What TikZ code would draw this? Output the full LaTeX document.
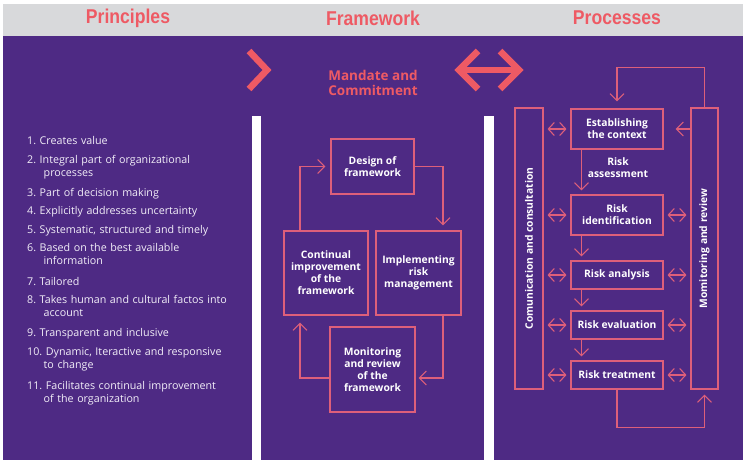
\documentclass[tikz,border=0pt]{standalone}
\usepackage{fontspec}
\setmainfont{Open Sans}
\newfontfamily\headfont[FakeStretch=0.88]{Liberation Sans Bold}
\usetikzlibrary{arrows.meta}
\frenchspacing

\definecolor{bandgray}{HTML}{D8D9DB}
\definecolor{isopurple}{HTML}{4E2A84}
\definecolor{isocoral}{HTML}{EE5A64}
\definecolor{isoline}{HTML}{DE5F7A}
\definecolor{isotext}{HTML}{F2EEF8}

\begin{document}
\begin{tikzpicture}[x=1pt,y=-1pt,
    every node/.style={font=\fontsize{10}{12}\selectfont},
    headline/.style={text=isocoral,font=\headfont\fontsize{20}{22}\selectfont},
    fwbox/.style={draw=isoline,line width=1.1pt,text=white,font=\bfseries\fontsize{10.3}{12}\selectfont,align=center,inner sep=2pt},
    procbox/.style={fwbox,minimum width=92pt},
    boxtext/.style={text=white,font=\bfseries\fontsize{10.3}{12}\selectfont,align=center},
    flow/.style={draw=isoline,line width=1.1pt,-{Straight Barb[length=7pt,width=14pt]}},
    twoway/.style={draw=isoline,line width=1.1pt,{Straight Barb[length=6pt,width=13pt]}-{Straight Barb[length=6pt,width=13pt]},shorten <=4pt,shorten >=4pt},
    principle/.style={anchor=base west,text width=215pt,align=left,inner sep=0pt,text=isotext,font=\fontsize{10.7}{13}\selectfont}]

    \useasboundingbox (0,0) rectangle (743,463);

    % Background and panels
    \fill[bandgray] (3,4) rectangle (743,36);
    \fill[isopurple] (3,36) rectangle (743,460);
    \fill[white] (252,116) rectangle (261,463);
    \fill[white] (484,116) rectangle (494,463);

    % Headings
    \node[headline] (princhead) at (128,18) {Principles};
    \node[headline] (framehead) at (373,18) {Framework};
    \node[headline] (prochead) at (617,18) {Processes};

    % Mandate and commitment
    \draw[isocoral,line width=6.5pt] (249,51) -- (267,70) -- (249,89);
    \draw[isocoral,line width=6.5pt] (460,70) -- (518,70);
    \draw[isocoral,line width=6.5pt] (478,51) -- (459,70) -- (478,89);
    \draw[isocoral,line width=6.5pt] (500,51) -- (519,70) -- (500,89);
    \node[text=isocoral,font=\bfseries\fontsize{13.5}{15}\selectfont,align=center] (mandate) at (373,82.5) {Mandate and\\Commitment};

    % Principles
    \foreach \y/\txt [count=\i] in {144/{1. Creates value},
            163/{2. Integral part of organizational\\\hspace*{16.5pt}processes},
            196/{3. Part of decision making},
            214/{4. Explicitly addresses uncertainty},
            233/{5. Systematic, structured and timely},
            251/{6. Based on the best available\\\hspace*{16.5pt}information},
            285/{7. Tailored},
            303/{8. Takes human and cultural factos into\\\hspace*{16.5pt}account},
            336/{9. Transparent and inclusive},
            355/{10. Dynamic, Iteractive and responsive\\\hspace*{16.5pt}to change},
            389/{11. Facilitates continual improvement\\\hspace*{16.5pt}of the organization}} {
        \node[principle] (princ\i) at (27,\y) {\txt};
    }

    % Framework cycle
    \node[fwbox,minimum width=83pt,minimum height=55pt] (design) at (372.5,166.5) {Design of\\framework};
    \node[fwbox,minimum width=84pt,minimum height=84pt] (improve) at (326,273) {Continual\\improvement\\of the\\framework};
    \node[fwbox,minimum width=85pt,minimum height=84pt] (implement) at (418.5,273) {Implementing\\risk\\management};
    \node[fwbox,minimum width=85pt,minimum height=85pt] (monitor) at (372.5,369.5) {Monitoring\\and review\\of the\\framework};

    \draw[flow,shorten >=5pt] (design.east) -| ([xshift=24.5pt]implement.north);
    \draw[flow,shorten >=3pt] ([xshift=24.5pt]implement.south) |- ([yshift=-8.5pt]monitor.east);
    \draw[flow,shorten >=7pt] ([yshift=-8.5pt]monitor.west) -| ([xshift=-26pt]improve.south);
    \draw[flow,shorten >=5pt] ([xshift=-26pt]improve.north) |- (design.west);

    % Risk management process
    \node[procbox,minimum height=40pt] (context) at (617,129) {Establishing\\the context};
    \node[procbox,minimum height=40pt] (identify) at (617,215) {Risk\\identification};
    \node[procbox,minimum height=28pt] (analysis) at (617,275) {Risk analysis};
    \node[procbox,minimum height=28pt] (evaluation) at (617,325) {Risk evaluation};
    \node[procbox,minimum height=28pt] (treatment) at (617,375) {Risk treatment};
    \node[boxtext] (assess) at (618,167.5) {Risk\\assessment};

    \node[fwbox,minimum width=28pt,minimum height=281pt] (consult) at (529,248.5) {};
    \node[boxtext,rotate=90] (consulttext) at (consult) {Comunication and consultation};
    \node[fwbox,minimum width=27pt,minimum height=281pt] (review) at (704.5,248.5) {};
    \node[boxtext,rotate=90] (reviewtext) at (review) {Momitoring and review};

    \foreach \a/\b in {context/identify,identify/analysis,analysis/evaluation,evaluation/treatment}
        \draw[flow,shorten >=4pt] ([xshift=11pt]\a.south west) -- ([xshift=11pt]\b.north west);

    \foreach \p in {context,identify,analysis,evaluation,treatment}
        \draw[twoway] (consult.east |- \p.west) -- (\p.west);
    \foreach \p in {identify,analysis,evaluation,treatment}
        \draw[twoway] (\p.east) -- (review.west |- \p.east);
    \draw[flow,shorten >=12pt] (review.west |- context.east) -- (context.east);

    % Feedback loops
    \draw[flow,shorten >=7pt] (review.north) -- ++(0,-40) -| (context.north);
    \draw[flow,shorten >=5pt] (treatment.south) -- ++(0,38) -| (review.south);

\end{tikzpicture}
\end{document}
